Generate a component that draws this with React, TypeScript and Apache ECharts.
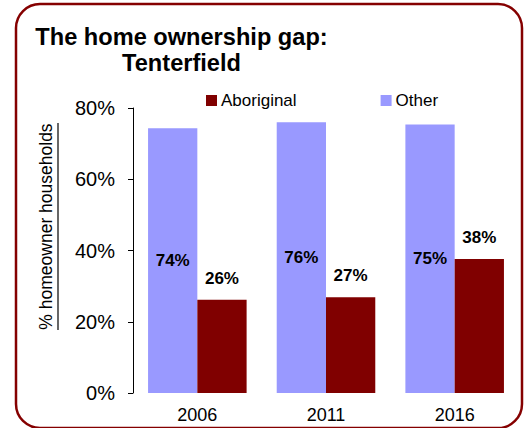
import React, { useEffect, useRef } from "react";
import * as echarts from "echarts";

const years = ["2006", "2011", "2016"];
const otherValues = [74.3, 76.0, 75.4];
const aboriginalValues = [26.2, 26.9, 37.6];
const yTicks = [0, 20, 40, 60, 80];
const yAxisTitle = "% homeowner households";

const FONT = "'Liberation Sans', Arial, sans-serif";

export default function App() {
  const ref = useRef<HTMLDivElement>(null);
  useEffect(() => {
    const chart = echarts.init(ref.current!, null, { renderer: "svg" });
    chart.setOption({
      animation: false,
      backgroundColor: "#fff",
      textStyle: { fontFamily: FONT },
      legend: {
        data: ["Aboriginal", "Other"],
        left: 201,
        top: 87,
        icon: "rect",
        itemWidth: 11,
        itemHeight: 11,
        itemGap: 84,
        textStyle: { fontFamily: FONT, fontSize: 17, color: "#000", padding: [0, 0, 0, -1] },
      },
      grid: { left: 133, right: 9, top: 108, bottom: 35 },
      xAxis: {
        type: "category",
        data: years,
        axisLine: { show: false },
        axisTick: { show: false },
        axisLabel: { fontFamily: FONT, fontSize: 18, color: "#000", margin: 13 },
      },
      yAxis: {
        type: "value",
        min: yTicks[0],
        max: yTicks[yTicks.length - 1],
        interval: 20,
        axisLine: { show: true, lineStyle: { color: "#000", width: 1 } },
        axisTick: { show: true, length: 5, lineStyle: { color: "#000" } },
        splitLine: { show: false },
        axisLabel: {
          fontFamily: FONT,
          fontSize: 20,
          color: "#000",
          margin: 18,
          formatter: (v: number) => `${v}%`,
        },
      },
      series: [
        {
          name: "Other",
          type: "bar",
          data: otherValues,
          barGap: "0%",
          barCategoryGap: "23.4%",
          itemStyle: { color: "#9999FF" },
          label: {
            show: true,
            position: "inside",
            fontFamily: FONT,
            fontSize: 17,
            fontWeight: "bold",
            color: "#000",
            formatter: (p: any) => `${Math.round(p.value)}%`,
          },
        },
        {
          name: "Aboriginal",
          type: "bar",
          data: aboriginalValues,
          barGap: "0%",
          barCategoryGap: "23.4%",
          itemStyle: { color: "#800000" },
          label: {
            show: true,
            position: "top",
            distance: 13,
            fontFamily: FONT,
            fontSize: 17,
            fontWeight: "bold",
            color: "#000",
            formatter: (p: any) => `${Math.round(p.value)}%`,
          },
        },
      ],
      graphic: [
        {
          type: "rect",
          shape: { x: 16, y: 4, width: 506, height: 424, r: 24 },
          style: { fill: "none", stroke: "#850000", lineWidth: 2.5 },
          silent: true,
        },
        {
          type: "text",
          x: 181.5,
          y: 24,
          style: {
            text: "The home ownership gap:\nTenterfield",
            fontFamily: FONT,
            fontSize: 23.6,
            fontWeight: "bold",
            lineHeight: 26,
            fill: "#000",
            align: "center",
            verticalAlign: "top",
          },
          silent: true,
        },
        {
          type: "text",
          x: 46,
          y: 226.5,
          rotation: Math.PI / 2,
          style: {
            text: yAxisTitle,
            fontFamily: FONT,
            fontSize: 17.5,
            fill: "#000",
            align: "center",
            verticalAlign: "middle",
          },
          silent: true,
        },
        {
          type: "line",
          shape: { x1: 58, y1: 123, x2: 58, y2: 330 },
          style: { stroke: "#000", lineWidth: 1.2 },
          silent: true,
        },
      ],
    });
    return () => chart.dispose();
  }, []);
  return (
    <div
      ref={ref}
      style={{ position: "fixed", left: 0, top: 0, width: 528, height: 428 }}
    />
  );
}
